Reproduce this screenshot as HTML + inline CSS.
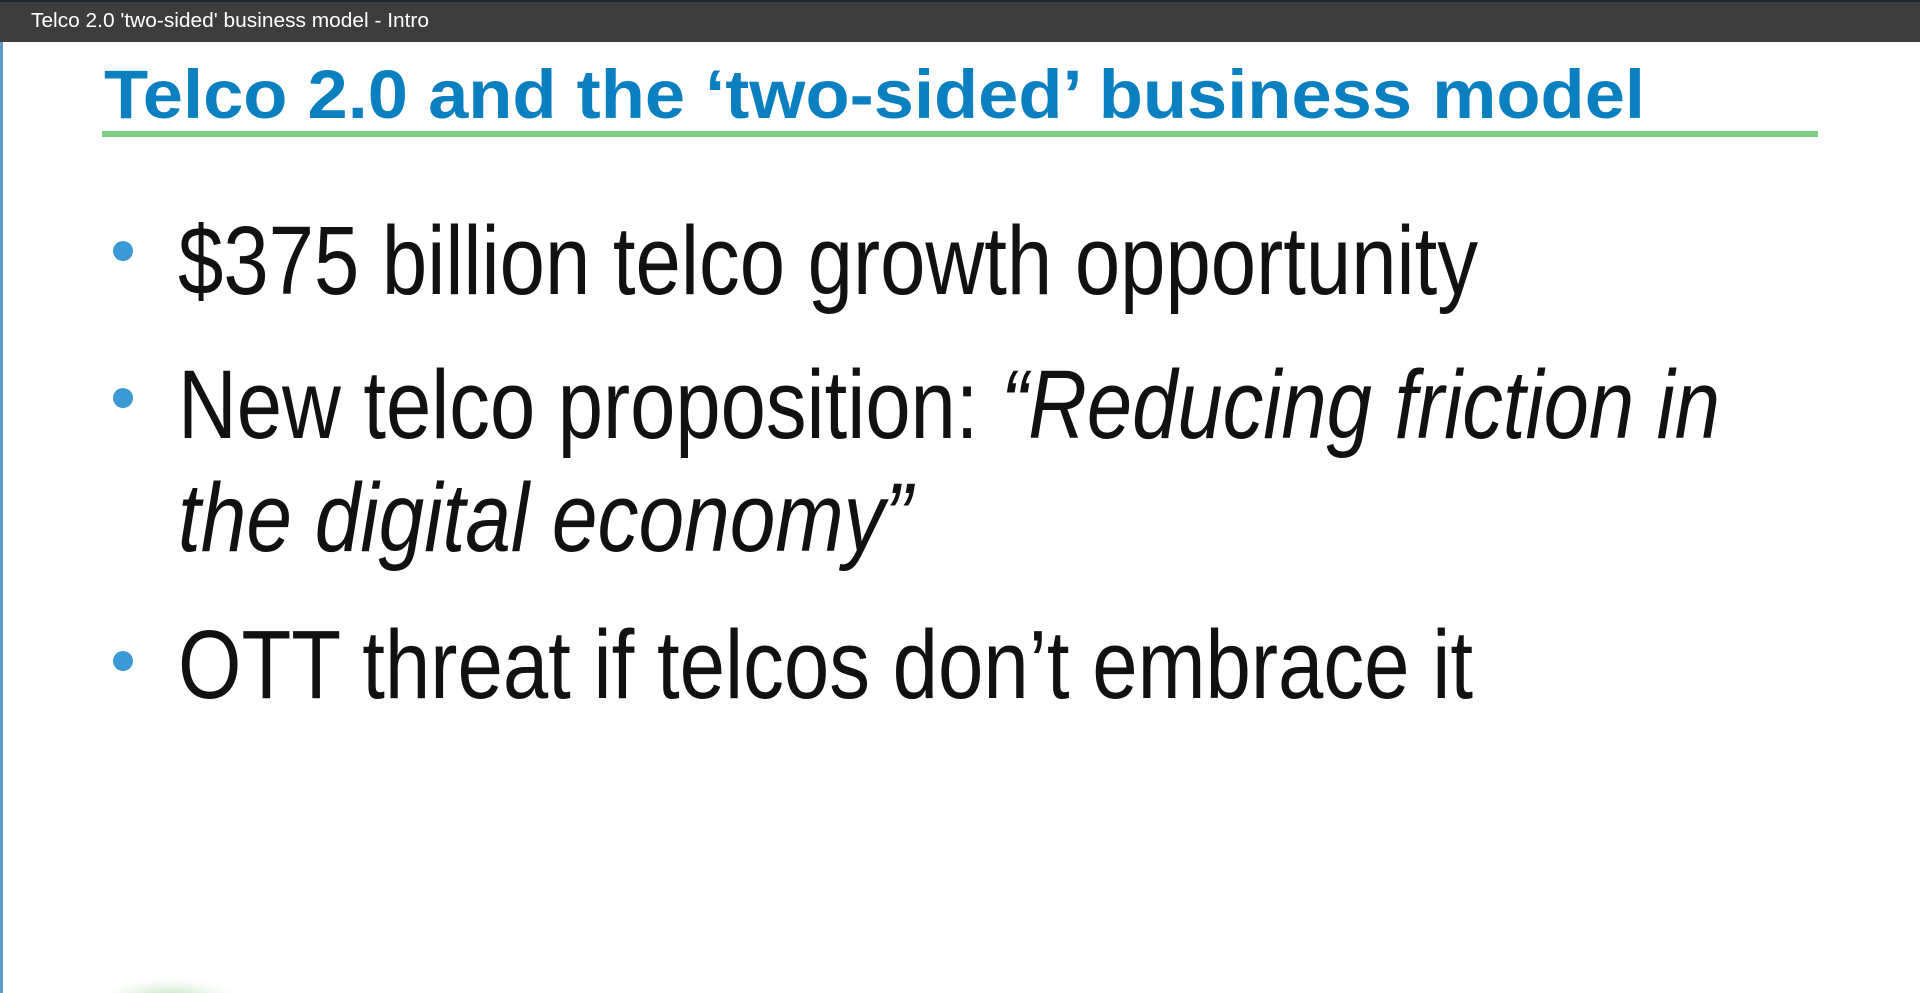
<!DOCTYPE html>
<html><head><meta charset="utf-8">
<style>
html,body{margin:0;padding:0;width:1920px;height:993px;overflow:hidden;background:#fff;font-family:"Liberation Sans",Arial,sans-serif;}
#bar{position:absolute;left:0;top:0;width:1920px;height:42px;background:#3d3d3d;border-top:2px solid #1e2a30;box-sizing:border-box;}
#edge{position:absolute;left:0;top:42px;width:3px;height:951px;background:#5a9cc8;}
svg{position:absolute;left:0;top:0;}
</style></head><body>
<div id="bar"></div>
<div id="edge"></div>
<svg width="1920" height="993" viewBox="0 0 1920 993" style="top:0">
<defs><radialGradient id="g" cx="50%" cy="50%" r="50%"><stop offset="0" stop-color="#8fcf8a" stop-opacity="0.7"/><stop offset="1" stop-color="#c8ebc4" stop-opacity="0"/></radialGradient></defs>
<text x="31" y="27" font-family="Liberation Sans, Arial, sans-serif" font-size="20" fill="#fff" textLength="398" lengthAdjust="spacingAndGlyphs">Telco 2.0 'two-sided' business model - Intro</text>
<text x="104" y="118" font-family="Liberation Sans, Arial, sans-serif" font-weight="bold" font-size="69" fill="#0b80c0" textLength="1541" lengthAdjust="spacingAndGlyphs">Telco 2.0 and the ‘two-sided’ business model</text>
<rect x="102" y="131" width="1716" height="6" fill="#7fcf82"/>
<circle cx="123" cy="251" r="10" fill="#3b9ad6"/>
<text x="178" y="294" font-family="Liberation Sans, Arial, sans-serif" font-size="97" fill="#111" textLength="1300" lengthAdjust="spacingAndGlyphs">$375 billion telco growth opportunity</text>
<circle cx="123" cy="398" r="10" fill="#3b9ad6"/>
<text x="178" y="438" font-family="Liberation Sans, Arial, sans-serif" font-size="97" fill="#111" textLength="1542" lengthAdjust="spacingAndGlyphs">New telco proposition: <tspan font-style="italic">“Reducing friction in</tspan></text>
<text x="178" y="551" font-family="Liberation Sans, Arial, sans-serif" font-size="97" font-style="italic" fill="#111" textLength="734" lengthAdjust="spacingAndGlyphs">the digital economy”</text>
<circle cx="123" cy="661" r="10" fill="#3b9ad6"/>
<text x="178" y="698" font-family="Liberation Sans, Arial, sans-serif" font-size="97" fill="#111" textLength="1295" lengthAdjust="spacingAndGlyphs">OTT threat if telcos don’t embrace it</text>
<ellipse cx="170" cy="1000" rx="70" ry="22" fill="url(#g)"/>
</svg>
</body></html>
